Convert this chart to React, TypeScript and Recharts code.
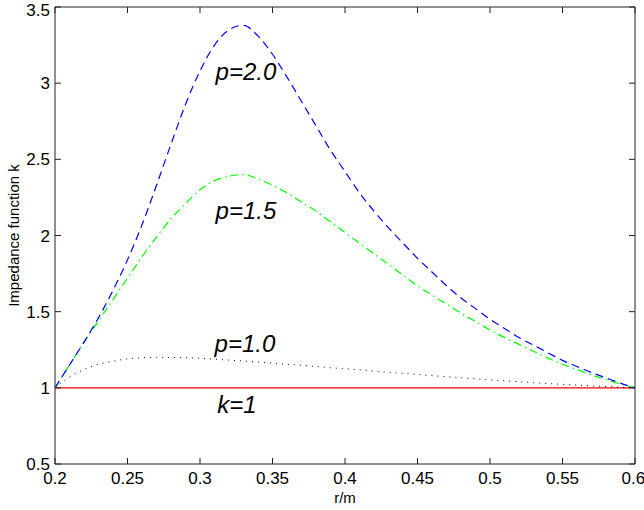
import {
  LineChart,
  Line,
  XAxis,
  YAxis,
  ReferenceDot,
} from "recharts";

const radius = [
  0.2, 0.21, 0.22, 0.23, 0.24, 0.25, 0.26, 0.27, 0.28, 0.29, 0.3, 0.31, 0.32,
  0.33, 0.34, 0.35, 0.36, 0.37, 0.38, 0.39, 0.4, 0.41, 0.42, 0.43, 0.44, 0.45,
  0.46, 0.47, 0.48, 0.49, 0.5, 0.51, 0.52, 0.53, 0.54, 0.55, 0.56, 0.57, 0.58,
  0.59, 0.6,
];

const kP20 = [
  1.0, 1.15, 1.3, 1.46, 1.64, 1.84, 2.07, 2.33, 2.6, 2.86, 3.08, 3.25, 3.35,
  3.38, 3.31, 3.19, 3.04, 2.88, 2.72, 2.56, 2.42, 2.28, 2.16, 2.05, 1.95, 1.85,
  1.76, 1.67, 1.59, 1.52, 1.45, 1.39, 1.33, 1.28, 1.23, 1.18, 1.14, 1.1, 1.065,
  1.03, 1.0,
];

const kP15 = [
  1.0, 1.15, 1.3, 1.44, 1.58, 1.72, 1.86, 1.99, 2.11, 2.21, 2.3, 2.36, 2.39,
  2.4, 2.37, 2.33, 2.28, 2.22, 2.16, 2.09, 2.02, 1.95, 1.88, 1.81, 1.74, 1.67,
  1.61, 1.55, 1.49, 1.435, 1.38, 1.33, 1.285, 1.24, 1.195, 1.155, 1.12, 1.085,
  1.055, 1.025, 1.0,
];

const kP10 = [
  1.0, 1.07, 1.12, 1.155, 1.175, 1.19, 1.197, 1.2, 1.2, 1.198, 1.194, 1.188,
  1.182, 1.176, 1.169, 1.162, 1.155, 1.148, 1.14, 1.132, 1.125, 1.118, 1.11,
  1.102, 1.095, 1.088, 1.08, 1.073, 1.066, 1.059, 1.052, 1.046, 1.04, 1.034,
  1.028, 1.023, 1.018, 1.013, 1.008, 1.004, 1.0,
];

const kOne = radius.map(() => 1);

const xTicks = [0.2, 0.25, 0.3, 0.35, 0.4, 0.45, 0.5, 0.55, 0.6];
const yTicks = [0.5, 1, 1.5, 2, 2.5, 3, 3.5];

const annotations = [
  { r: 0.3317, k: 3.08, text: "p=2.0" },
  { r: 0.3317, k: 2.165, text: "p=1.5" },
  { r: 0.331, k: 1.29, text: "p=1.0" },
  { r: 0.3255, k: 0.888, text: "k=1" },
];

const chartData = radius.map((r, i) => ({
  r,
  p20: kP20[i],
  p15: kP15[i],
  p10: kP10[i],
  one: kOne[i],
}));

const axisColor = "#222";
const tickStyle = { fontSize: 17, fill: "#000" };
const noLabel = () => <g />;

export default function App() {
  return (
    <div style={{ position: "absolute", left: 0, top: 0, background: "#fff" }}>
      <LineChart
        width={644}
        height={510}
        data={chartData}
        margin={{ top: 0, right: 0, bottom: 0, left: 0 }}
        style={{ fontFamily: "'Liberation Sans', Arial, sans-serif" }}
      >
        <XAxis
          dataKey="r"
          type="number"
          domain={[0.2, 0.6]}
          ticks={xTicks}
          height={46}
          tick={tickStyle}
          tickSize={-6}
          tickMargin={14}
          tickLine={{ stroke: axisColor }}
          axisLine={{ stroke: axisColor }}
          allowDataOverflow
          label={{
            value: "r/m",
            position: "insideBottom",
            offset: 7,
            style: { fontSize: 15, fill: "#000" },
          }}
        />
        <XAxis
          xAxisId="top"
          orientation="top"
          dataKey="r"
          type="number"
          domain={[0.2, 0.6]}
          ticks={xTicks}
          height={7}
          tick={noLabel}
          tickSize={-6}
          tickLine={{ stroke: axisColor }}
          axisLine={{ stroke: axisColor }}
          allowDataOverflow
        />
        <YAxis
          type="number"
          domain={[0.5, 3.5]}
          ticks={yTicks}
          width={55}
          tick={tickStyle}
          tickSize={-6}
          tickMargin={11}
          tickLine={{ stroke: axisColor }}
          axisLine={{ stroke: axisColor }}
          allowDataOverflow
          label={{
            value: "Impedance function k",
            angle: -90,
            position: "insideLeft",
            offset: 14,
            style: { fontSize: 15, fill: "#000", textAnchor: "middle" },
          }}
        />
        <YAxis
          yAxisId="right"
          orientation="right"
          type="number"
          domain={[0.5, 3.5]}
          ticks={yTicks}
          width={9}
          tick={noLabel}
          tickSize={-6}
          tickLine={{ stroke: axisColor }}
          axisLine={{ stroke: axisColor }}
          allowDataOverflow
        />
        <Line
          dataKey="one"
          stroke="#ff0000"
          strokeWidth={1.2}
          dot={false}
          type="linear"
          isAnimationActive={false}
        />
        <Line
          dataKey="p10"
          stroke="#000"
          strokeWidth={1}
          strokeDasharray="1 5"
          dot={false}
          type="monotone"
          isAnimationActive={false}
        />
        <Line
          dataKey="p15"
          stroke="#00ff00"
          strokeWidth={1.2}
          strokeDasharray="8 4 1.5 4"
          dot={false}
          type="monotone"
          isAnimationActive={false}
        />
        <Line
          dataKey="p20"
          stroke="#0000ff"
          strokeWidth={1.2}
          strokeDasharray="8 5"
          dot={false}
          type="monotone"
          isAnimationActive={false}
        />
        {annotations.map((a) => (
          <ReferenceDot
            key={a.text}
            x={a.r}
            y={a.k}
            r={0}
            fill="none"
            stroke="none"
            label={{
              value: a.text,
              position: "center",
              style: { fontSize: 24, fontStyle: "italic", fill: "#000" },
            }}
          />
        ))}
      </LineChart>
    </div>
  );
}
